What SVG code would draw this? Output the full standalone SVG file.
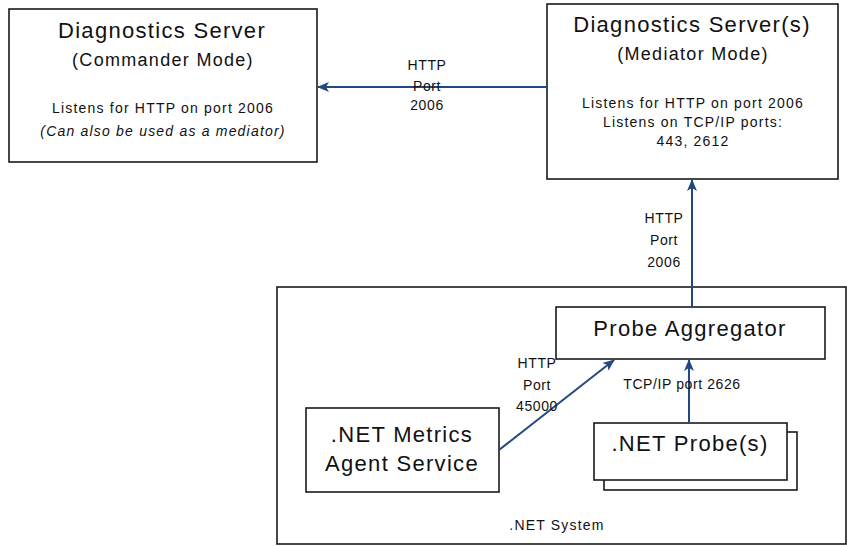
<svg xmlns="http://www.w3.org/2000/svg" width="847" height="546" viewBox="0 0 847 546">
<style>
.box{fill:#fff;stroke:#1a1a1a;stroke-width:1.6}
.t{font-family:"Liberation Sans",Arial,sans-serif;fill:#111;text-anchor:middle}
.big{font-size:22px;letter-spacing:1.3px}
.mid{font-size:18px;letter-spacing:1.3px}
.sm{font-size:14px;letter-spacing:1.2px}
.it{font-style:italic}
.lbl{font-family:"Liberation Sans",Arial,sans-serif;font-size:14px;fill:#111;text-anchor:middle;letter-spacing:0.6px}
.conn{stroke:#22497f;stroke-width:2;fill:none}
</style>
<defs>
<marker id="ah" viewBox="0 0 12 10" refX="11" refY="5" markerWidth="12" markerHeight="10" markerUnits="userSpaceOnUse" orient="auto">
<path d="M0,0 L12,5 L0,10 L3,5 Z" fill="#22497f"/>
</marker>
</defs>
<g id="net-system">
<rect class="box" x="277" y="287" width="569" height="257"/>
<text class="t sm" x="557" y="530">.NET System</text>
</g>
<g id="commander">
<rect class="box" x="9" y="9" width="308" height="153"/>
<text class="t big" x="162" y="38">Diagnostics Server</text>
<text class="t mid" x="163" y="66">(Commander Mode)</text>
<text class="t sm" x="163" y="113">Listens for HTTP on port 2006</text>
<text class="t sm it" x="163" y="136">(Can also be used as a mediator)</text>
</g>
<g id="mediator">
<rect class="box" x="547" y="4" width="291" height="175"/>
<text class="t big" x="692" y="32">Diagnostics Server(s)</text>
<text class="t mid" x="693" y="60">(Mediator Mode)</text>
<text class="t sm" x="693" y="108">Listens for HTTP on port 2006</text>
<text class="t sm" x="693" y="127">Listens on TCP/IP ports:</text>
<text class="t sm" x="693" y="146">443, 2612</text>
</g>
<g id="aggregator">
<rect class="box" x="556" y="307" width="269" height="52"/>
<text class="t big" x="690" y="336">Probe Aggregator</text>
</g>
<g id="metrics">
<rect class="box" x="306" y="408" width="193" height="84"/>
<text class="t big" x="402" y="442">.NET Metrics</text>
<text class="t big" x="402" y="471">Agent Service</text>
</g>
<g id="probes">
<rect class="box" x="604" y="432" width="193" height="58"/>
<rect class="box" x="594" y="423" width="193" height="57"/>
<text class="t big" x="690" y="451">.NET Probe(s)</text>
</g>
<g id="connectors">
<line class="conn" x1="547" y1="87" x2="318" y2="87" marker-end="url(#ah)"/>
<text class="lbl" x="427" y="70">HTTP</text>
<text class="lbl" x="427" y="91">Port</text>
<text class="lbl" x="427" y="110">2006</text>
<line class="conn" x1="692" y1="307" x2="692" y2="180" marker-end="url(#ah)"/>
<text class="lbl" x="664" y="223">HTTP</text>
<text class="lbl" x="664" y="245">Port</text>
<text class="lbl" x="664" y="267">2006</text>
<line class="conn" x1="499" y1="450" x2="614" y2="360" marker-end="url(#ah)"/>
<text class="lbl" x="537" y="368">HTTP</text>
<text class="lbl" x="537" y="390">Port</text>
<text class="lbl" x="537" y="411">45000</text>
<line class="conn" x1="689" y1="423" x2="689" y2="360" marker-end="url(#ah)"/>
<text class="lbl" x="682" y="389">TCP/IP port 2626</text>
</g>
</svg>
